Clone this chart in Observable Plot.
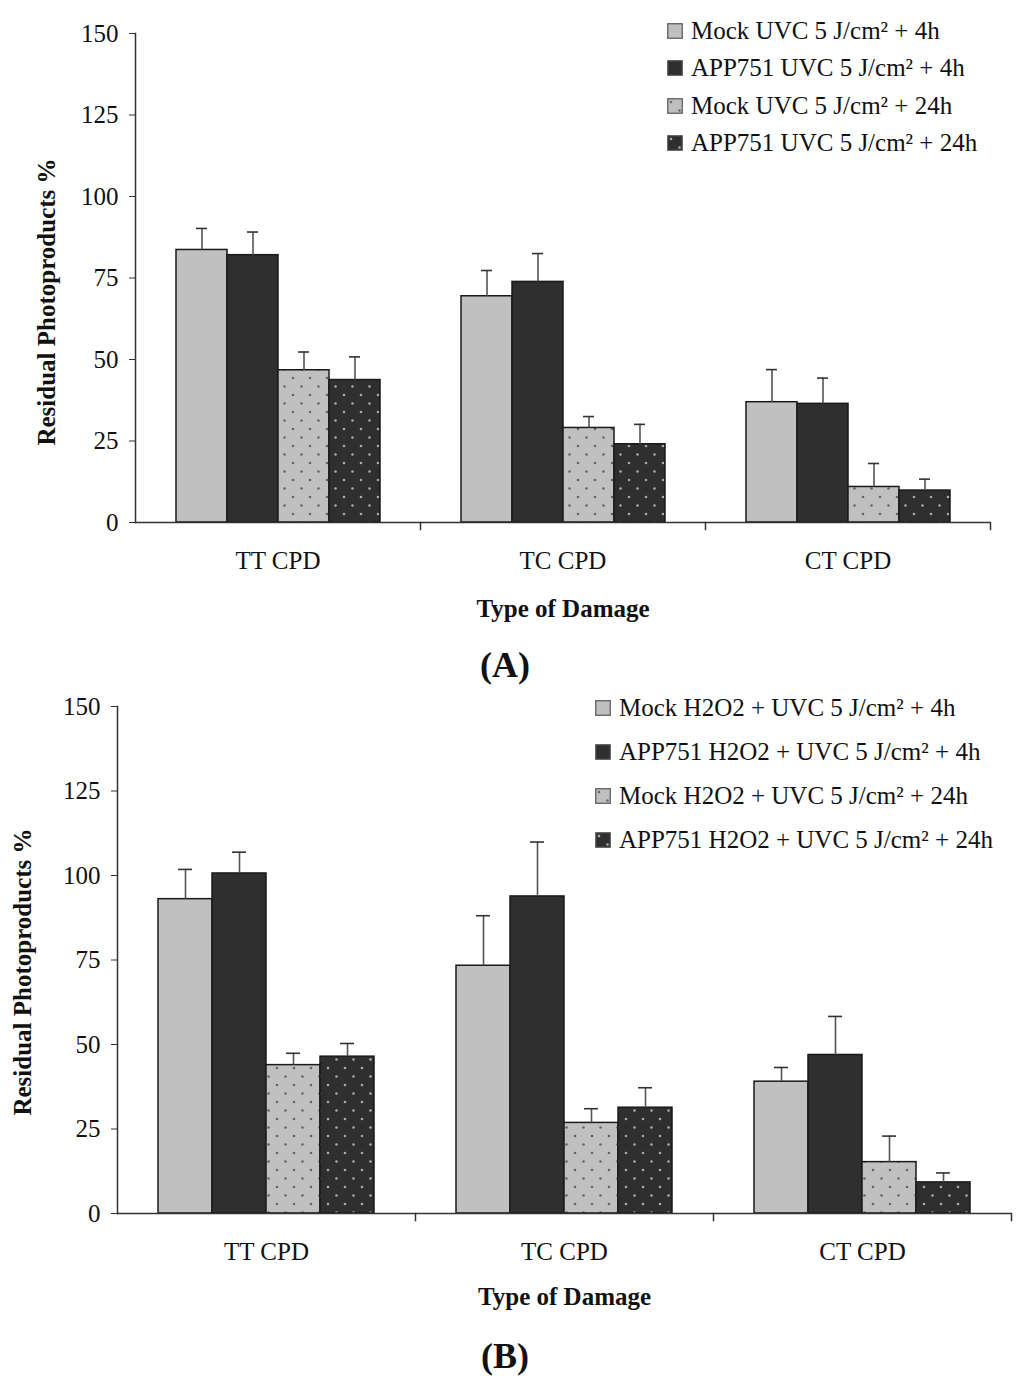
<!DOCTYPE html>
<html>
<head>
<meta charset="utf-8">
<script src="https://cdn.jsdelivr.net/npm/d3@7"></script>
<script src="https://cdn.jsdelivr.net/npm/@observablehq/plot@0.6"></script>
<style>
  body { margin: 0; background: #fff; font-family: "Liberation Serif", "Times New Roman", serif; }
  #page { position: relative; width: 1024px; height: 1380px; overflow: hidden; }
  .panel { position: absolute; left: 0; }
  .legend { position: absolute; font-size: 25px; color: #111; z-index: 2; }
  .legend .row { display: flex; align-items: center; white-space: nowrap; }
  .legend svg { margin-right: 8px; flex: none; }
  .tag { position: absolute; width: 200px; text-align: center; font-weight: bold; font-size: 36px; line-height: 40px; color: #111; }
  g[aria-label="y-axis label"] text, g[aria-label="fx-axis label"] text { font-weight: bold; }
</style>
</head>
<body>
<svg width="0" height="0" style="position:absolute">
  <defs>
    <pattern id="dotsLight" patternUnits="userSpaceOnUse" width="17" height="17">
      <rect width="17" height="17" fill="#c0c0c0"></rect>
      <circle cx="4" cy="4" r="1.3" fill="#666"></circle>
      <circle cx="12.5" cy="12.5" r="1.3" fill="#666"></circle>
    </pattern>
    <pattern id="dotsDark" patternUnits="userSpaceOnUse" width="17" height="17">
      <rect width="17" height="17" fill="#2f2f2f"></rect>
      <circle cx="4" cy="4" r="1.3" fill="#aaa"></circle>
      <circle cx="12.5" cy="12.5" r="1.3" fill="#aaa"></circle>
    </pattern>
  </defs>
</svg>
<div id="page">
  <div class="panel" id="panelA" style="top:0px"></div>
  <div class="legend" id="legendA" style="left:667px; top:12px"></div>
  <div class="tag" style="left:405px; top:645px">(A)</div>
  <div class="panel" id="panelB" style="top:690px"></div>
  <div class="legend" id="legendB" style="left:595px; top:686px"></div>
  <div class="tag" style="left:405px; top:1336px">(B)</div>
</div>
<script>
const categories = ["TT CPD", "TC CPD", "CT CPD"];
const seriesA = ["Mock UVC 5 J/cm² + 4h", "APP751 UVC 5 J/cm² + 4h", "Mock UVC 5 J/cm² + 24h", "APP751 UVC 5 J/cm² + 24h"];
const seriesB = ["Mock H2O2 + UVC 5 J/cm² + 4h", "APP751 H2O2 + UVC 5 J/cm² + 4h", "Mock H2O2 + UVC 5 J/cm² + 24h", "APP751 H2O2 + UVC 5 J/cm² + 24h"];
const yTicks = [0, 25, 50, 75, 100, 125, 150];

// Panel A values (per category: TT, TC, CT)
const aMock4h = [83.6, 69.4, 36.9];
const aMock4hErr = [6.6, 7.9, 10.0];
const aApp4h = [82.0, 73.8, 36.4];
const aApp4hErr = [7.1, 8.7, 7.9];
const aMock24h = [46.7, 29.0, 10.9];
const aMock24hErr = [5.6, 3.5, 7.2];
const aApp24h = [43.7, 24.0, 9.8];
const aApp24hErr = [7.1, 6.1, 3.5];

// Panel B values
const bMock4h = [93.0, 73.3, 39.0];
const bMock4hErr = [8.8, 14.8, 4.2];
const bApp4h = [100.6, 93.8, 46.9];
const bApp4hErr = [6.3, 16.1, 11.4];
const bMock24h = [43.9, 26.8, 15.2];
const bMock24hErr = [3.5, 4.2, 7.7];
const bApp24h = [46.4, 31.3, 9.2];
const bApp24hErr = [3.9, 5.9, 2.8];

const fills = ["#c0c0c0", "#2f2f2f", "url(#dotsLight)", "url(#dotsDark)"];

function buildRows(series, values, errs) {
  return categories.flatMap((c, i) => series.map((s, j) => ({category: c, series: s, value: values[j][i], err: errs[j][i]})));
}

const rowsA = buildRows(seriesA, [aMock4h, aApp4h, aMock24h, aApp24h], [aMock4hErr, aApp4hErr, aMock24hErr, aApp24hErr]);
const rowsB = buildRows(seriesB, [bMock4h, bApp4h, bMock24h, bApp24h], [bMock4hErr, bApp4hErr, bMock24hErr, bApp24hErr]);

function panel({series, data, height, marginTop, marginBottom, marginLeft, marginRight, yLabelOffset, yLabelShift, xLabelOffset}) {
  const innerH = height - marginTop - marginBottom;
  const axisColor = "#333";
  const svg = Plot.plot({
    width: 1024, height, marginTop, marginBottom, marginLeft, marginRight,
    style: {fontFamily: '"Liberation Serif", "Times New Roman", serif', fontSize: "25px", color: "#111", background: "transparent", overflow: "visible"},
    fx: {domain: categories, padding: 0, label: null},
    x: {domain: series, paddingInner: 0, paddingOuter: 0.75, axis: null},
    y: {domain: [0, 150], axis: null},
    color: {domain: series, range: fills},
    marks: [
      Plot.barY(data, {fx: "category", x: "series", y: "value", fill: "series", stroke: "#1a1a1a", strokeWidth: 1.5}),
      Plot.ruleX(data, {fx: "category", x: "series", y1: "value", y2: d => d.value + d.err, stroke: "#555", strokeWidth: 1.6}),
      Plot.tickY(data, {fx: "category", x: "series", y: d => d.value + d.err, stroke: "#333", strokeWidth: 1.6, inset: 20}),
      Plot.ruleY([0], {stroke: axisColor, strokeWidth: 1.5}),
      Plot.frame({anchor: "left", facetAnchor: "left", stroke: axisColor, strokeWidth: 1.5}),
      Plot.frame({anchor: "right", insetTop: innerH, insetBottom: -7, stroke: axisColor, strokeWidth: 1.5}),
      Plot.axisY({ticks: yTicks, tickSize: 6, tickPadding: 11, stroke: axisColor, label: "Residual Photoproducts %", labelAnchor: "center", labelArrow: "none", labelOffset: yLabelOffset}),
      Plot.axisFx({anchor: "bottom", tickSize: 0, tickPadding: 29, label: "Type of Damage", labelAnchor: "center", labelArrow: "none", labelOffset: xLabelOffset})
    ]
  });
  const lab = svg.querySelector('g[aria-label="y-axis label"]');
  if (lab) lab.setAttribute("transform", ((lab.getAttribute("transform") || "") + ` translate(0,${yLabelShift})`).trim());
  return svg;
}

function legend(el, series, rowHeight) {
  series.forEach((s, j) => {
    const row = document.createElement("div");
    row.className = "row";
    row.style.height = rowHeight + "px";
    row.innerHTML = `<svg width="16" height="16"><rect x="0.75" y="0.75" width="14.5" height="14.5" fill="${fills[j]}" stroke="#555" stroke-width="1.2"></rect></svg><span></span>`;
    row.querySelector("span").textContent = s;
    el.appendChild(row);
  });
}

document.getElementById("panelA").appendChild(panel({
  series: seriesA, data: rowsA, height: 630, marginTop: 33, marginBottom: 108, marginLeft: 135, marginRight: 34,
  yLabelOffset: 98, yLabelShift: 24, xLabelOffset: 94
}));
document.getElementById("panelB").appendChild(panel({
  series: seriesB, data: rowsB, height: 620, marginTop: 16, marginBottom: 97, marginLeft: 116, marginRight: 12,
  yLabelOffset: 104, yLabelShift: 12, xLabelOffset: 91
}));
legend(document.getElementById("legendA"), seriesA, 37.5);
legend(document.getElementById("legendB"), seriesB, 44);
</script>
</body>
</html>
